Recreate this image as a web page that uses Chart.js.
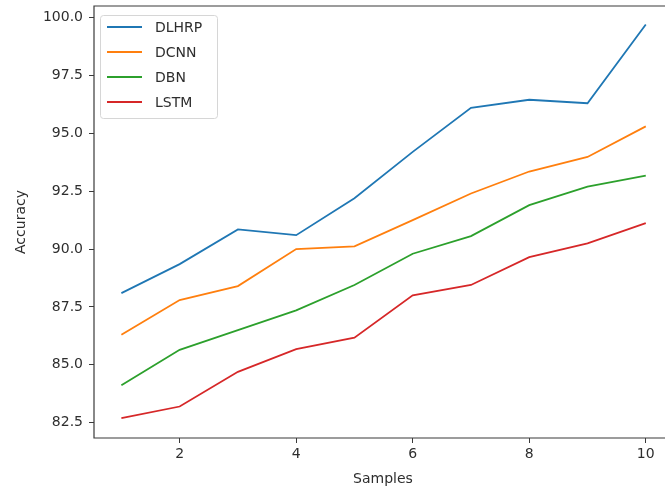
<!DOCTYPE html>
<html>
<head>
<meta charset="utf-8">
<script src="https://cdn.jsdelivr.net/npm/chart.js@4/dist/chart.umd.min.js"></script>
<style>
    html, body { margin: 0; padding: 0; background: #fff; overflow: hidden; }
    #wrap { width: 680px; height: 490px; }
</style>
</head>
<body>
<div id="wrap"><canvas id="accChart" width="680" height="490"></canvas></div>
<script>
const samples = [1, 2, 3, 4, 5, 6, 7, 8, 9, 10];
const dlhrp = [88.1, 89.35, 90.85, 90.6, 92.2, 94.2, 96.1, 96.45, 96.3, 99.7];
const dcnn = [86.3, 87.8, 88.4, 90.0, 90.12, 91.25, 92.4, 93.35, 93.98, 95.3];
const dbn = [84.12, 85.65, 86.5, 87.35, 88.45, 89.8, 90.56, 91.9, 92.7, 93.17];
const lstm = [82.7, 83.2, 84.7, 85.68, 86.17, 88.0, 88.45, 89.65, 90.25, 91.12];
const xTicks = [2, 4, 6, 8, 10];
const yTicks = [82.5, 85.0, 87.5, 90.0, 92.5, 95.0, 97.5, 100.0];

const FONT = 'DejaVu Sans';
const TEXT = '#2e2e2e';
const AXIS = '#3a3a3a';

function toPoints(values) {
    return samples.map((s, i) => ({ x: s, y: values[i] }));
}

function series(label, values, color) {
    return {
        label: label,
        data: toPoints(values),
        borderColor: color,
        backgroundColor: color,
        borderWidth: 1.8,
        pointRadius: 0,
        tension: 0,
        fill: false
    };
}

// frame (top/left/bottom; the right side falls outside the picture) + legend box
const framePlugin = {
    id: 'frame',
    afterDatasetsDraw(chart) {
        const { ctx, chartArea: a } = chart;
        ctx.save();
        ctx.strokeStyle = AXIS;
        ctx.lineWidth = 1.2;
        ctx.beginPath();
        ctx.moveTo(chart.width, a.top);
        ctx.lineTo(a.left, a.top);
        ctx.lineTo(a.left, a.bottom);
        ctx.lineTo(chart.width, a.bottom);
        ctx.stroke();

        // legend
        const x0 = a.left + 6, y0 = a.top + 9;
        const w = 117, h = 103;
        ctx.fillStyle = 'rgba(255,255,255,0.8)';
        ctx.strokeStyle = '#d6d6d6';
        ctx.lineWidth = 1;
        ctx.beginPath();
        ctx.roundRect(x0 + 0.5, y0 + 0.5, w, h, 3);
        ctx.fill();
        ctx.stroke();
        ctx.font = '14px "' + FONT + '"';
        ctx.textBaseline = 'middle';
        chart.data.datasets.forEach((ds, i) => {
            const yy = y0 + 12 + i * 25;
            ctx.strokeStyle = ds.borderColor;
            ctx.lineWidth = 2;
            ctx.beginPath();
            ctx.moveTo(x0 + 7, yy);
            ctx.lineTo(x0 + 42, yy);
            ctx.stroke();
            ctx.fillStyle = TEXT;
            ctx.fillText(ds.label, x0 + 55, yy + 1);
        });
        ctx.restore();
    }
};

const ctx = document.getElementById('accChart').getContext('2d');

new Chart(ctx, {
    type: 'line',
    data: {
        datasets: [
            series('DLHRP', dlhrp, '#1f77b4'),
            series('DCNN', dcnn, '#ff7f0e'),
            series('DBN', dbn, '#2ca02c'),
            series('LSTM', lstm, '#d62728')
        ]
    },
    options: {
        responsive: false,
        animation: false,
        layout: { padding: { top: 6, right: 8, left: 0, bottom: 0 } },
        scales: {
            x: {
                type: 'linear',
                min: 0.53,
                max: 10.45,
                afterBuildTicks: (scale) => { scale.ticks = xTicks.map(v => ({ value: v })); },
                afterFit: (scale) => {
                    scale.height = 52;
                    scale.paddingLeft = 0;
                    scale.paddingRight = 0;
                },
                border: { display: false },
                grid: {
                    drawOnChartArea: false,
                    drawTicks: true,
                    tickLength: 5,
                    color: AXIS
                },
                ticks: {
                    padding: 3,
                    maxRotation: 0,
                    color: TEXT,
                    font: { family: FONT, size: 14 },
                    callback: (v) => String(v)
                },
                title: {
                    display: true,
                    text: 'Samples',
                    color: TEXT,
                    font: { family: FONT, size: 14 },
                    padding: { top: 0, bottom: 2 }
                }
            },
            y: {
                min: 81.84,
                max: 100.5,
                afterBuildTicks: (scale) => { scale.ticks = yTicks.map(v => ({ value: v })); },
                afterFit: (scale) => {
                    scale.width = 94;
                    scale.paddingTop = 0;
                    scale.paddingBottom = 0;
                },
                border: { display: false },
                grid: {
                    drawOnChartArea: false,
                    drawTicks: true,
                    tickLength: 5,
                    color: AXIS
                },
                ticks: {
                    padding: 6,
                    color: TEXT,
                    font: { family: FONT, size: 14 },
                    callback: (v) => Number(v).toFixed(1)
                },
                title: {
                    display: true,
                    text: 'Accuracy',
                    color: TEXT,
                    font: { family: FONT, size: 14 },
                    padding: { top: 13, bottom: 0 }
                }
            }
        },
        plugins: {
            legend: { display: false },
            tooltip: { enabled: false }
        }
    },
    plugins: [framePlugin]
});
</script>
</body>
</html>
